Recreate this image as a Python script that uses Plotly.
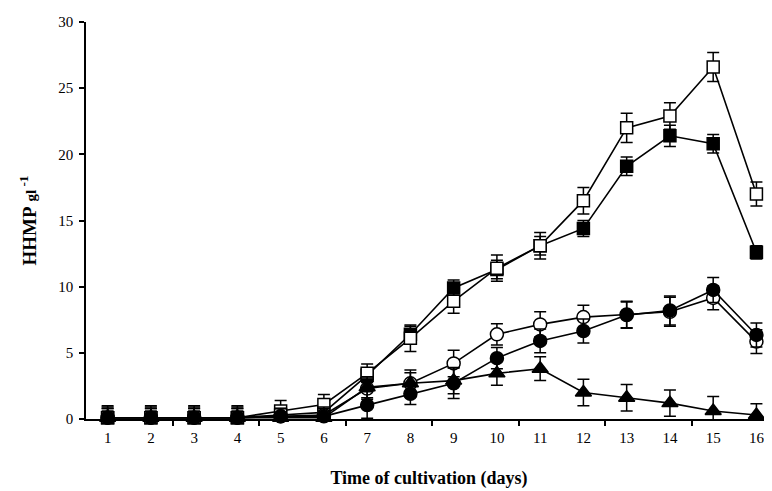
import plotly.graph_objects as go

days = list(range(1, 17))
day_labels = [str(d) for d in days]

open_sq = [0.1, 0.1, 0.1, 0.1, 0.6, 1.1, 3.45, 6.1, 8.9, 11.4, 13.1, 16.5, 22.0, 22.9, 26.6, 17.0]
open_sq_err = [0.8, 0.8, 0.8, 0.8, 0.8, 0.75, 0.7, 1.0, 0.9, 1.0, 1.0, 1.0, 1.1, 1.0, 1.1, 0.9]

filled_sq = [0.1, 0.1, 0.1, 0.1, 0.3, 0.5, 3.3, 6.4, 9.9, 11.3, 13.1, 14.4, 19.1, 21.4, 20.8, 12.6]
filled_sq_err = [0.5, 0.5, 0.5, 0.5, 0.5, 0.5, 0.5, 0.6, 0.6, 0.7, 0.7, 0.6, 0.7, 0.8, 0.7, 0.5]

open_circ = [0.1, 0.1, 0.1, 0.1, 0.2, 0.3, 2.3, 2.7, 4.2, 6.4, 7.15, 7.7, 7.9, 8.1, 9.15, 5.85]
open_circ_err = [0.7, 0.7, 0.7, 0.7, 0.6, 0.6, 0.8, 1.0, 1.0, 0.8, 0.95, 0.9, 1.0, 1.1, 0.9, 0.9]

filled_circ = [0.1, 0.1, 0.1, 0.1, 0.2, 0.2, 1.05, 1.9, 2.7, 4.6, 5.9, 6.65, 7.85, 8.2, 9.75, 6.35]
filled_circ_err = [0.7, 0.7, 0.7, 0.7, 0.6, 0.6, 1.0, 0.8, 1.15, 0.8, 0.9, 0.9, 1.0, 1.1, 0.95, 0.9]

triangle = [0.1, 0.1, 0.1, 0.1, 0.1, 0.1, 2.4, 2.7, 2.9, 3.45, 3.8, 2.0, 1.6, 1.2, 0.6, 0.3]
triangle_err = [0.9, 0.9, 0.9, 0.9, 0.7, 0.7, 0.8, 0.8, 1.0, 0.9, 0.9, 1.0, 1.0, 1.0, 1.1, 0.85]

y_ticks = [0, 5, 10, 15, 20, 25, 30]
x_minor_ticks = [2.5, 4.5, 6.5, 8.5, 10.5, 12.5, 14.5]

FONT = "Liberation Serif"

series = [
    (filled_sq, filled_sq_err, "square", "black", 12),
    (open_sq, open_sq_err, "square", "white", 12),
    (open_circ, open_circ_err, "circle", "white", 13),
    (filled_circ, filled_circ_err, "circle", "black", 13),
    (triangle, triangle_err, "triangle-up", "black", 14),
]

fig = go.Figure()
for vals, errs, sym, fill, size in series:
    fig.add_trace(go.Scatter(
        x=days, y=vals, mode="lines+markers",
        line=dict(color="black", width=1.6),
        marker=dict(symbol=sym, size=size, color=fill, line=dict(color="black", width=1.5)),
        error_y=dict(type="data", array=errs, visible=True, color="black", thickness=1.5, width=6),
        cliponaxis=False, showlegend=False,
    ))

# page body adds an 8px offset, so the figure is sized to end at the window edge
fig.update_layout(
    width=764, height=483,
    margin=dict(l=78, r=0, t=14, b=72),
    paper_bgcolor="white", plot_bgcolor="white",
    font=dict(family=FONT, color="black", size=15),
    xaxis=dict(
        range=[0.5, 16.36], automargin=False,
        tickmode="array", tickvals=days, ticktext=day_labels,
        ticks="", showgrid=False, zeroline=False,
        showline=True, linecolor="black", linewidth=1.5,
        tickfont=dict(family=FONT, size=15), ticklabelstandoff=4,
        minor=dict(tickmode="array", tickvals=x_minor_ticks, ticks="outside", ticklen=5,
                   tickcolor="black", tickwidth=1.5, showgrid=False),
        title=dict(text="<b>Time of cultivation (days)</b>", font=dict(family=FONT, size=18), standoff=27),
    ),
    yaxis=dict(
        range=[0, 30], automargin=False,
        tickmode="array", tickvals=y_ticks,
        ticks="outside", ticklen=5, tickcolor="black", tickwidth=1.5,
        showgrid=False, zeroline=False,
        showline=True, linecolor="black", linewidth=1.5,
        tickfont=dict(family=FONT, size=15), ticklabelstandoff=3,
        title=dict(text="<b>HHMP</b> <b><span style='font-size:15px'>gl</span><sup> -1</sup></b>",
                   font=dict(family=FONT, size=19), standoff=17),
    ),
)

fig.write_html("out.html")
